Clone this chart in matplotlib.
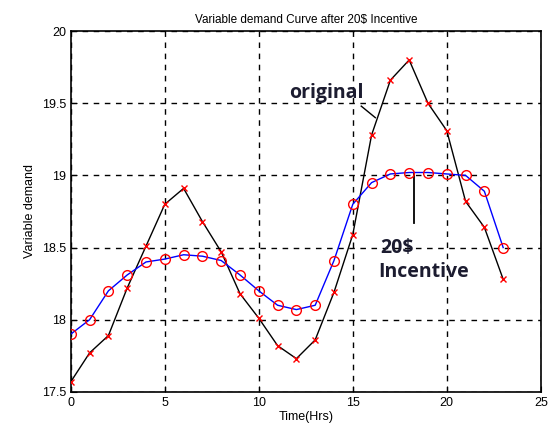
import matplotlib
matplotlib.use("Agg")
import matplotlib.pyplot as plt

# Data
hours = list(range(24))
original_demand = [17.57, 17.77, 17.89, 18.22, 18.51, 18.80, 18.91, 18.68,
                   18.47, 18.18, 18.01, 17.82, 17.73, 17.86, 18.19, 18.59,
                   19.28, 19.66, 19.80, 19.50, 19.31, 18.82, 18.64, 18.28]
incentive_demand = [17.90, 18.00, 18.20, 18.31, 18.40, 18.42, 18.45, 18.44,
                    18.41, 18.31, 18.20, 18.10, 18.07, 18.10, 18.41, 18.80,
                    18.95, 19.01, 19.02, 19.02, 19.01, 19.00, 18.89, 18.50]
x_ticks = [0, 5, 10, 15, 20, 25]
y_ticks = [17.5, 18, 18.5, 19, 19.5, 20]
y_tick_labels = ["17.5", "18", "18.5", "19", "19.5", "20"]


def visualize_data():
    '''Draw both demand curves and save the figure.'''
    plt.rcParams['font.family'] = ['Liberation Sans', 'DejaVu Sans']
    fig = plt.figure(figsize=(5.49, 4.32), dpi=100)
    ax = fig.add_axes([0.129, 0.093, 0.856, 0.835])

    # Original demand: black line, red x markers
    ax.plot(hours, original_demand, color='black', linewidth=1.0, zorder=3)
    ax.plot(hours, original_demand, linestyle='none', marker='x',
            color='red', markersize=4, markeredgewidth=1.0, zorder=4)

    # Demand after incentive: blue line, red open circles
    ax.plot(hours, incentive_demand, color='blue', linewidth=1.0, zorder=3)
    ax.plot(hours, incentive_demand, linestyle='none', marker='o',
            markerfacecolor='none', markeredgecolor='red', markersize=7,
            markeredgewidth=1.0, zorder=4)

    ax.set_xlim(0, 25)
    ax.set_ylim(17.5, 20)
    ax.set_xticks(x_ticks)
    ax.set_yticks(y_ticks)
    ax.set_yticklabels(y_tick_labels)
    ax.tick_params(direction='in', labelsize=9, length=4, color='black')
    ax.grid(True, color='black', linestyle=(0, (4, 4)), linewidth=1.0)
    for spine in ax.spines.values():
        spine.set_linewidth(1.2)

    ax.set_title('Variable demand Curve after 20$ Incentive', fontsize=8.5, pad=6)
    ax.set_xlabel('Time(Hrs)', fontsize=9, labelpad=2)
    ax.set_ylabel('Variable demand', fontsize=9, labelpad=4)

    # Callouts
    label_font = dict(fontsize=14, fontweight='bold',
                      family=['Open Sans', 'DejaVu Sans'], color='#1c1c30',
                      va='center', ha='left')
    ax.text(11.6, 19.57, 'original', **label_font)
    ax.plot([15.45, 16.2], [19.48, 19.4], color='black', linewidth=1.0)
    ax.plot([18.23, 18.23], [19.02, 18.67], color='black', linewidth=1.3)
    ax.text(16.44, 18.50, '20$', **label_font)
    ax.text(16.33, 18.33, 'Incentive', **label_font)

    fig.savefig('out.png', dpi=100)
    plt.close(fig)


def main():
    visualize_data()


if __name__ == "__main__":
    main()
